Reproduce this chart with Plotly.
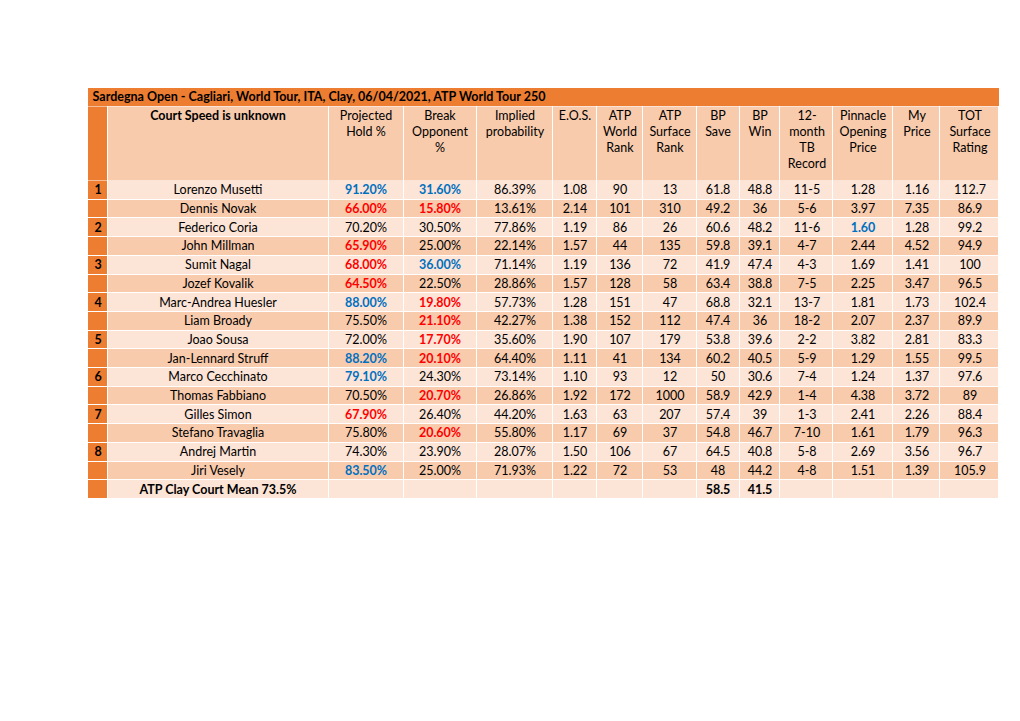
import plotly.graph_objects as go

TITLE = "Sardegna Open - Cagliari, World Tour, ITA, Clay, 06/04/2021, ATP World Tour 250"

HEADERS = [
    [""], ["<b>Court Speed is unknown</b>"], ["Projected", "Hold %"], ["Break", "Opponent", "%"],
    ["Implied", "probability"], ["E.O.S."], ["ATP", "World", "Rank"], ["ATP", "Surface", "Rank"],
    ["BP", "Save"], ["BP", "Win"], ["12-", "month", "TB", "Record"], ["Pinnacle", "Opening", "Price"],
    ["My", "Price"], ["TOT", "Surface", "Rating"],
]

players = [
    "Lorenzo Musetti", "Dennis Novak", "Federico Coria", "John Millman", "Sumit Nagal",
    "Jozef Kovalik", "Marc-Andrea Huesler", "Liam Broady", "Joao Sousa", "Jan-Lennard Struff",
    "Marco Cecchinato", "Thomas Fabbiano", "Gilles Simon", "Stefano Travaglia",
    "Andrej Martin", "Jiri Vesely",
]
hold_pct = [91.20, 66.00, 70.20, 65.90, 68.00, 64.50, 88.00, 75.50, 72.00, 88.20, 79.10, 70.50, 67.90, 75.80, 74.30, 83.50]
break_pct = [31.60, 15.80, 30.50, 25.00, 36.00, 22.50, 19.80, 21.10, 17.70, 20.10, 24.30, 20.70, 26.40, 20.60, 23.90, 25.00]
implied_pct = [86.39, 13.61, 77.86, 22.14, 71.14, 28.86, 57.73, 42.27, 35.60, 64.40, 73.14, 26.86, 44.20, 55.80, 28.07, 71.93]
eos = [1.08, 2.14, 1.19, 1.57, 1.19, 1.57, 1.28, 1.38, 1.90, 1.11, 1.10, 1.92, 1.63, 1.17, 1.50, 1.22]
world_rank = [90, 101, 86, 44, 136, 128, 151, 152, 107, 41, 93, 172, 63, 69, 106, 72]
surface_rank = [13, 310, 26, 135, 72, 58, 47, 112, 179, 134, 12, 1000, 207, 37, 67, 53]
bp_save = [61.8, 49.2, 60.6, 59.8, 41.9, 63.4, 68.8, 47.4, 53.8, 60.2, 50, 58.9, 57.4, 54.8, 64.5, 48]
bp_win = [48.8, 36, 48.2, 39.1, 47.4, 38.8, 32.1, 36, 39.6, 40.5, 30.6, 42.9, 39, 46.7, 40.8, 44.2]
tb_record = ["11-5", "5-6", "11-6", "4-7", "4-3", "7-5", "13-7", "18-2", "2-2", "5-9", "7-4", "1-4", "1-3", "7-10", "5-8", "4-8"]
pinnacle = [1.28, 3.97, 1.60, 2.44, 1.69, 2.25, 1.81, 2.07, 3.82, 1.29, 1.24, 4.38, 2.41, 1.61, 2.69, 1.51]
my_price = [1.16, 7.35, 1.28, 4.52, 1.41, 3.47, 1.73, 2.37, 2.81, 1.55, 1.37, 3.72, 2.26, 1.79, 3.56, 1.39]
tot_rating = [112.7, 86.9, 99.2, 94.9, 100, 96.5, 102.4, 89.9, 83.3, 99.5, 97.6, 89, 88.4, 96.3, 96.7, 105.9]

mean_label = "ATP Clay Court Mean 73.5%"
mean_bp_save = 58.5
mean_bp_win = 41.5

# highlighted cells: column index -> {row: colour key}
highlights = {
    2: {0: "b", 1: "r", 3: "r", 4: "r", 5: "r", 6: "b", 9: "b", 10: "b", 12: "r", 15: "b"},
    3: {0: "b", 1: "r", 4: "b", 6: "r", 7: "r", 8: "r", 9: "r", 11: "r", 13: "r"},
    11: {2: "b"},
}

ORANGE = "#ED7D31"
PEACH = "#F8CBAD"
LIGHT = "#FCE4D6"
HL = {"b": "#0070C0", "r": "#FF0000"}
FILLS = [[0, ORANGE], [0.5, PEACH], [1, LIGHT]]   # z: 0 orange, 1 peach, 2 light
FONT = dict(family="Lato", size=12.5, color="black")

n = len(players)
pct = lambda vals: [f"{v:.2f}%" for v in vals]
two = lambda vals: [f"{v:.2f}" for v in vals]
gen = lambda vals: [f"{v:g}" for v in vals]

match_no = [f"<b>{i // 2 + 1}</b>" if i % 2 == 0 else "" for i in range(n)]
columns = [
    match_no, players, pct(hold_pct), pct(break_pct), pct(implied_pct), two(eos),
    gen(world_rank), gen(surface_rank), gen(bp_save), gen(bp_win), tb_record,
    two(pinnacle), two(my_price), gen(tot_rating),
]
mean_row = ["", f"<b>{mean_label}</b>", "", "", "", "", "", "",
            f"<b>{mean_bp_save:g}</b>", f"<b>{mean_bp_win:g}</b>", "", "", "", ""]

# geometry in screenshot pixels (the page body adds an 8px offset)
W, H = 1020, 721
OFF = 8
col_widths = [20, 220.5, 75, 73, 76, 44.5, 46, 54, 42.5, 40.5, 53, 60, 47, 59]
x_edges = [88.0]
for w in col_widths:
    x_edges.append(x_edges[-1] + w)
head_edges = [106.5, 124.5, 140, 156, 172, 180.5]
row_h = 18.7
body_edges = [181 + i * row_h for i in range(n + 2)]

# body grid
body_z, body_text = [], []
for r in range(n + 1):
    zrow, trow = [], []
    for c in range(len(columns)):
        if r < n:
            v = columns[c][r]
            key = highlights.get(c, {}).get(r)
            if key:
                v = f"<span style='color:{HL[key]}'><b>{v}</b></span>"
            shade = 2 if r % 2 == 0 else 1
        else:
            v = mean_row[c]
            shade = 2
        trow.append(v)
        zrow.append(0 if c == 0 else shade)
    body_z.append(zrow)
    body_text.append(trow)

# header grid, one line of each label per sub-row
head_z, head_text = [], []
for line in range(5):
    head_z.append([0] + [1] * 13)
    head_text.append([h[line] if line < len(h) else "" for h in HEADERS])

common = dict(colorscale=FILLS, zmin=0, zmax=2, showscale=False, hoverinfo="skip",
              texttemplate="%{text}", textfont=FONT)

fig = go.Figure()
fig.add_trace(go.Heatmap(x=[88, 549, x_edges[-1]], y=[88, 106], z=[[0, 0]],
                         text=[[f"<b>{TITLE}</b>", ""]], xgap=0, ygap=0, **common))
fig.add_trace(go.Heatmap(x=x_edges, y=head_edges, z=head_z, text=head_text,
                         xgap=1, ygap=0, **common))
fig.add_trace(go.Heatmap(x=x_edges, y=body_edges, z=body_z, text=body_text,
                         xgap=1, ygap=1, **common))

fig.update_xaxes(range=[OFF, W + OFF], visible=False, fixedrange=True)
fig.update_yaxes(range=[H + OFF, OFF], visible=False, fixedrange=True)
fig.update_layout(width=W, height=H, margin=dict(l=0, r=0, t=0, b=0),
                  paper_bgcolor="white", plot_bgcolor="white")
fig.write_html("out.html")
